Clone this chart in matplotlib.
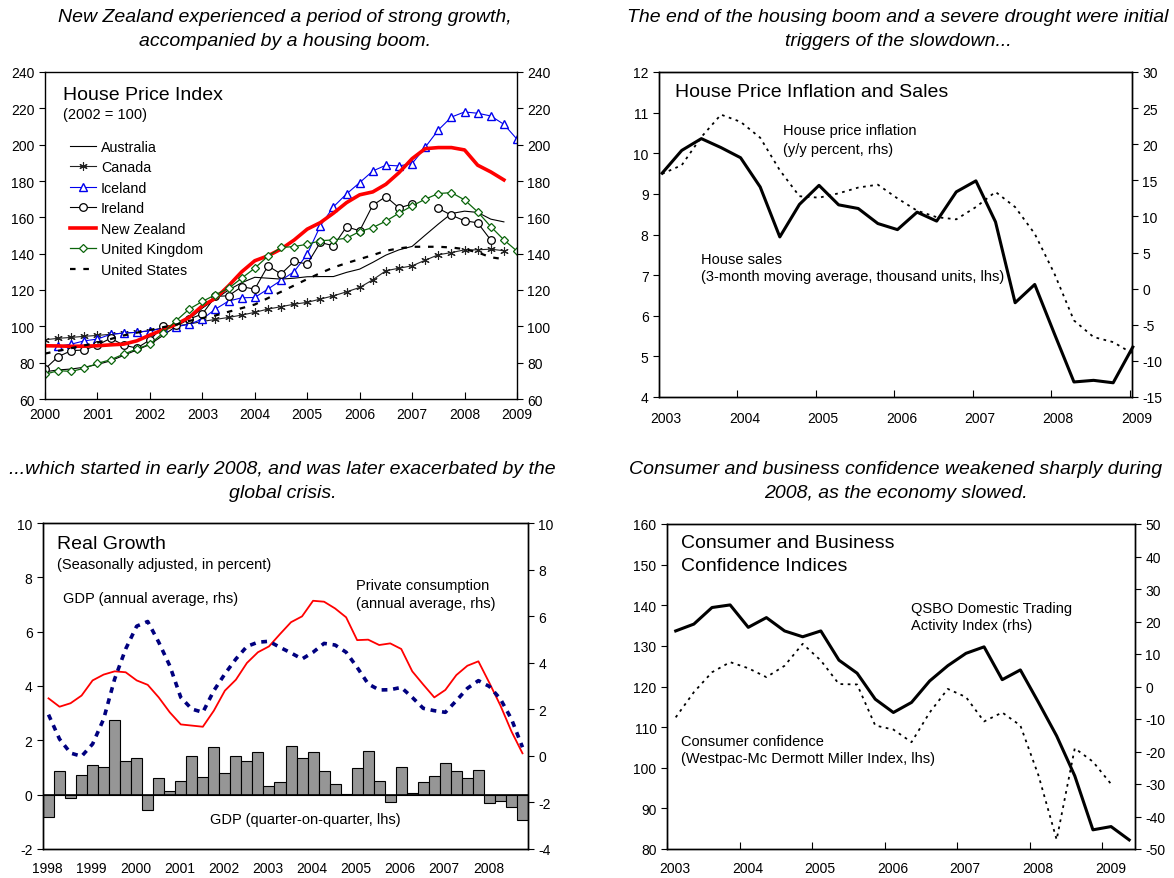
import numpy as np
import matplotlib.pyplot as plt
from matplotlib.transforms import ScaledTranslation

plt.rcParams['font.family'] = ['Liberation Sans', 'DejaVu Sans']
plt.rcParams['font.size'] = 10
plt.rcParams['axes.unicode_minus'] = False

nan = np.nan

# ---- house price index, quarterly 2000Q1 - 2009Q1 (2002 = 100)
australia = [75, 76, 76.5, 77.5, 79, 81, 84, 87, 90, 95, 100, 104, 110, 115, 120, 124,
             127, 126.5, 126, 126.5, 127.3, 127.4, 127.4, 129.7, 131.5, 135.2, 139.2, 142.1,
             144, 150.2, 156.3, 162.1, 163.4, 162.7, 159, 157.5, nan]
canada = [92.6, 93.4, 93.9, 94.5, 95.0, 95.6, 96.3, 96.7, 97.6, 99.2, 100.3, 101.2, 102.7,
          103.8, 104.9, 106.2, 107.7, 109.5, 110.8, 112.2, 113.2, 115.0, 116.8, 119.0, 121.4,
          125.6, 130.6, 132.0, 133.3, 136.4, 139.4, 140.6, 142.1, 142.1, 142.5, 141.6, nan]
iceland = [nan, 89.0, 90.2, 92.0, 93.0, 95.6, 96.3, 96.7, 97.6, 98.9, 99.8, 101.1, 104.0,
           109.5, 113.9, 115.7, 115.9, 120.5, 125.3, 130.1, 139.7, 155.3, 165.8, 172.9, 179.1,
           185.5, 188.7, 188.3, 189.6, 198.6, 208.1, 215.2, 218.0, 217.3, 215.8, 211.2, 203.0]
ireland = [76.5, 83.3, 86.6, 87.0, 89.7, 93.4, 89.7, 88.0, 92.5, 100.0, 100.7, 104.0, 106.8,
           116.5, 116.8, 121.8, 120.5, 133.3, 128.8, 135.7, 134.3, 146.2, 144.3, 154.8, 152.6,
           166.7, 171.4, 165.2, 167.3, nan, 164.9, 161.2, 158.1, 157.0, 147.5, nan, nan]
new_zealand = [89.3, 89.2, 89.0, 89.1, 89.3, 89.8, 90.2, 92.0, 95.2, 98.1, 101.1, 104.9, 111.3,
               115.4, 122.3, 130.0, 136.1, 138.8, 142.5, 147.5, 153.5, 157.1, 162.3, 168.1,
               172.4, 174.0, 178.2, 184.6, 192.3, 197.8, 198.4, 198.4, 197.1, 188.7, 185.0,
               180.6, nan]
uk = [73.6, 75.6, 75.2, 76.9, 79.6, 81.6, 84.7, 87.5, 90.2, 96.3, 103.1, 109.5, 113.7, 117.4,
      120.9, 126.5, 132.0, 138.6, 143.4, 143.9, 145.2, 147.1, 147.6, 148.5, 152.2, 154.4,
      157.9, 162.3, 166.3, 170.0, 173.1, 173.6, 169.6, 163.0, 154.9, 147.6, 141.4]
us = [85, 86.5, 88, 89.5, 91, 93, 95, 96.5, 98, 99.5, 101, 103, 104.5, 106, 108, 110, 112,
      115.5, 119, 122.5, 126, 129.3, 132.4, 134.8, 137, 139.2, 141.6, 142.9, 143.8, 143.8,
      143.8, 143.4, 142.5, 140.7, 138, 137, nan]

# ---- house sales (lhs) and house price inflation (rhs), 2003 - 2009
house_sales = [9.51, 10.07, 10.36, 10.14, 9.89, 9.17, 7.94, 8.74, 9.21, 8.73, 8.64, 8.27,
               8.12, 8.55, 8.33, 9.05, 9.32, 8.31, 6.32, 6.77, 5.56, 4.37, 4.41, 4.35, 5.23]
house_infl = [15.9, 17.1, 21.0, 24.1, 23.1, 20.9, 16.4, 12.8, 12.6, 13.2, 14.0, 14.4, 12.5,
              10.8, 9.9, 9.6, 11.3, 13.4, 11.3, 7.6, 2.1, -4.4, -6.7, -7.4, -9.0]

# ---- real growth 1998Q1 - 2008Q4
gdp_qoq = [-0.83, 0.86, -0.13, 0.74, 1.10, 1.01, 2.74, 1.25, 1.34, -0.55, 0.60, 0.12, 0.50,
           1.42, 0.64, 1.75, 0.79, 1.41, 1.25, 1.58, 0.33, 0.45, 1.80, 1.34, 1.57, 0.88, 0.38,
           0.02, 0.97, 1.60, 0.52, -0.28, 1.03, 0.05, 0.45, 0.70, 1.18, 0.86, 0.60, 0.92,
           -0.32, -0.22, -0.47, -0.92]
priv_cons = [2.47, 2.11, 2.26, 2.59, 3.24, 3.49, 3.63, 3.59, 3.24, 3.05, 2.51, 1.87, 1.35,
             1.30, 1.25, 1.94, 2.80, 3.27, 3.99, 4.45, 4.70, 5.23, 5.74, 5.99, 6.66, 6.62,
             6.33, 5.95, 4.97, 4.99, 4.76, 4.83, 4.59, 3.63, 3.06, 2.51, 2.83, 3.47, 3.87,
             4.06, 3.13, 2.16, 1.05, 0.11]
gdp_annual = [1.77, 0.72, 0.12, -0.02, 0.51, 1.58, 3.30, 4.59, 5.57, 5.77, 4.88, 3.87, 2.51,
              2.01, 1.87, 2.80, 3.52, 4.16, 4.70, 4.88, 4.92, 4.66, 4.42, 4.16, 4.45, 4.83,
              4.76, 4.45, 3.80, 3.09, 2.83, 2.84, 2.94, 2.51, 2.04, 1.94, 1.87, 2.37, 2.90,
              3.23, 2.98, 2.44, 1.58, 0.37]

# ---- confidence indices
qsbo = [17.1, 19.2, 24.3, 25.1, 18.2, 21.2, 17.1, 15.3, 17.1, 8.1, 4.1, -3.9, -8.0, -4.9,
        1.7, 6.4, 10.2, 12.2, 2.1, 5.1, -4.9, -15.2, -27.5, -44.1, -43.1, -47.2]
consumer_conf = [112.4, 118.6, 123.5, 126.0, 124.5, 122.3, 125.1, 130.5, 126.4, 120.6, 120.5,
                 110.4, 109.4, 106.3, 113.6, 119.4, 117.4, 111.4, 113.6, 110.4, 98.1, 82.3,
                 104.8, 101.5, 96.0]

W, H = 1174, 879
fig = plt.figure(figsize=(W / 100, H / 100), dpi=100)


def box(l, r, t, b):
    return [l / W, 1 - b / H, (r - l) / W, (b - t) / H]


def frame(ax):
    for s in ax.spines.values():
        s.set_linewidth(1.0)
        s.set_color('black')


def shift_xlabels(ax, px):
    off = ScaledTranslation(px / 100, 0, fig.dpi_scale_trans)
    for lab in ax.get_xticklabels():
        lab.set_transform(lab.get_transform() + off)


title_kw = dict(ha='center', va='center', fontsize=14, style='italic')
fig.text(0.243, 1 - 18 / H, 'New Zealand experienced a period of strong growth,', **title_kw)
fig.text(0.243, 1 - 42 / H, 'accompanied by a housing boom.', **title_kw)
fig.text(0.765, 1 - 18 / H, 'The end of the housing boom and a severe drought were initial', **title_kw)
fig.text(0.765, 1 - 42 / H, 'triggers of the slowdown...', **title_kw)
fig.text(0.2405, 1 - 470 / H, '...which started in early 2008, and was later exacerbated by the', **title_kw)
fig.text(0.2405, 1 - 494 / H, 'global crisis.', **title_kw)
fig.text(0.763, 1 - 470 / H, 'Consumer and business confidence weakened sharply during', **title_kw)
fig.text(0.763, 1 - 494 / H, '2008, as the economy slowed.', **title_kw)

# ================= top left
ax = fig.add_axes(box(45, 517, 73, 400))
t = 2000 + np.arange(37) / 4
green = '#0b650b'
ax.plot(t, australia, color='black', lw=0.8, label='Australia')
ax.plot(t, canada, color='#222222', lw=0.8, marker=(6, 2, 0), ms=6, mew=0.8,
        label='Canada')
ax.plot(t, iceland, color='#0000ee', lw=0.8, marker='^', ms=6, mfc='white', mec='#0000ee',
        mew=1.0, label='Iceland')
ax.plot(t, ireland, color='black', lw=0.8, marker='o', ms=5.5, mfc='white', mec='black',
        mew=0.9, label='Ireland')
ax.plot(t, new_zealand, color='#ff0000', lw=2.6, label='New Zealand')
ax.plot(t, uk, color=green, lw=0.9, marker='D', ms=4, mfc='white', mec=green, mew=0.9,
        label='United Kingdom')
ax.plot(t, us, color='black', lw=1.6, ls=(0, (2.5, 3.5)), label='United States')
ax.set_xlim(2000, 2009)
ax.set_ylim(60, 240)
ax.set_xticks(range(2000, 2010))
ax.set_yticks(range(60, 241, 20))
ax.tick_params(axis='y', left=True, right=True, labelright=True, direction='out', length=4)
ax.tick_params(axis='x', direction='in', length=5, pad=6)
frame(ax)
ax.text(0.038, 0.93, 'House Price Index', transform=ax.transAxes, fontsize=14, va='center')
ax.text(0.038, 0.872, '(2002 = 100)', transform=ax.transAxes, fontsize=10.5, va='center')
ax.legend(loc='upper left', bbox_to_anchor=(25 / 472, (400 - 141) / 327), frameon=False,
          fontsize=10.3, borderpad=0, borderaxespad=0, handlelength=1.8, handletextpad=0.35,
          labelspacing=0.45, numpoints=1)

# ================= top right
ax = fig.add_axes(box(659, 1132, 73, 398))
axr = ax.twinx()
t2 = 2003.04 + np.arange(len(house_sales)) * 0.25
ax.plot(t2, house_sales, color='black', lw=2.2, clip_on=False)
axr.plot(t2, house_infl, color='black', lw=1.3, ls=(0, (1.5, 2.5)), clip_on=False)
ax.set_xlim(2003, 2009.03)
ax.set_ylim(4, 12)
axr.set_ylim(-15, 30)
ax.set_xticks(range(2003, 2010))
ax.set_yticks(range(4, 13))
axr.set_yticks(range(-15, 31, 5))
ax.tick_params(axis='y', direction='out', length=4)
axr.tick_params(axis='y', direction='out', length=4)
ax.tick_params(axis='x', direction='in', length=5, pad=10)
shift_xlabels(ax, 7)
frame(ax)
frame(axr)
ax.text(0.034, 0.94, 'House Price Inflation and Sales', transform=ax.transAxes, fontsize=14,
        va='center')
ax.text(0.262, 0.8215, 'House price inflation', transform=ax.transAxes, fontsize=10.5,
        va='center')
ax.text(0.262, 0.763, '(y/y percent, rhs)', transform=ax.transAxes, fontsize=10.5, va='center')
ax.text(0.0888, 0.4246, 'House sales', transform=ax.transAxes, fontsize=10.5, va='center')
ax.text(0.0888, 0.372, '(3-month moving average, thousand units, lhs)', transform=ax.transAxes,
        fontsize=10.5, va='center')

# ================= bottom left
ax = fig.add_axes(box(43, 528, 524, 850))
axr = ax.twinx()
tq = 1998 + (np.arange(len(gdp_qoq)) + 0.5) / 4
ax.bar(tq, gdp_qoq, width=0.25, color='#969696', edgecolor='black', linewidth=0.8)
ax.axhline(0, color='black', lw=1.2)
axr.plot(tq, priv_cons, color='#ff0000', lw=1.3)
axr.plot(tq, gdp_annual, color='#00007f', lw=2.6, ls=(0, (1.6, 1.6)))
ax.set_xlim(1998, 2009)
ax.set_ylim(-2, 10)
axr.set_ylim(-4, 10)
ax.set_xticks(np.arange(1998, 2009) + 0.1)
ax.set_xticklabels([str(y) for y in range(1998, 2009)])
ax.set_yticks(range(-2, 11, 2))
axr.set_yticks(range(-4, 11, 2))
ax.tick_params(axis='x', length=0, pad=9)
ax.tick_params(axis='y', direction='out', length=4)
axr.tick_params(axis='y', direction='out', length=4)
frame(ax)
frame(axr)
ax.text(0.029, 0.936, 'Real Growth', transform=ax.transAxes, fontsize=14, va='center')
ax.text(0.029, 0.874, '(Seasonally adjusted, in percent)', transform=ax.transAxes,
        fontsize=10.5, va='center')
ax.text(0.041, 0.770, 'GDP (annual average, rhs)', transform=ax.transAxes, fontsize=10.5,
        va='center')
ax.text(0.645, 0.810, 'Private consumption', transform=ax.transAxes, fontsize=10.5,
        va='center')
ax.text(0.645, 0.755, '(annual average, rhs)', transform=ax.transAxes, fontsize=10.5,
        va='center')
ax.text(0.344, 0.092, 'GDP (quarter-on-quarter, lhs)', transform=ax.transAxes, fontsize=10.5,
        va='center')

# ================= bottom right
ax = fig.add_axes(box(667, 1135, 525, 850))
axr = ax.twinx()
tb = 2003.12 + np.arange(len(qsbo)) * 0.25
axr.plot(tb, qsbo, color='black', lw=2.2)
ax.plot(tb[:len(consumer_conf)], consumer_conf, color='black', lw=1.3, ls=(0, (1.5, 2.5)))
ax.set_xlim(2003, 2009.45)
ax.set_ylim(80, 160)
axr.set_ylim(-50, 50)
ax.set_xticks(range(2003, 2010))
ax.set_yticks(range(80, 161, 10))
axr.set_yticks(range(-50, 51, 10))
ax.tick_params(axis='x', direction='in', length=5, pad=9)
ax.tick_params(axis='y', direction='out', length=4)
axr.tick_params(axis='y', direction='out', length=4)
shift_xlabels(ax, 8)
frame(ax)
frame(axr)
ax.text(0.030, 0.942, 'Consumer and Business', transform=ax.transAxes, fontsize=14,
        va='center')
ax.text(0.030, 0.871, 'Confidence Indices', transform=ax.transAxes, fontsize=14, va='center')
ax.text(0.521, 0.7415, 'QSBO Domestic Trading', transform=ax.transAxes, fontsize=10.5,
        va='center')
ax.text(0.521, 0.689, 'Activity Index (rhs)', transform=ax.transAxes, fontsize=10.5,
        va='center')
ax.text(0.030, 0.332, 'Consumer confidence', transform=ax.transAxes, fontsize=10.5,
        va='center')
ax.text(0.030, 0.28, '(Westpac-Mc Dermott Miller Index, lhs)', transform=ax.transAxes,
        fontsize=10.5, va='center')

fig.savefig('out.png', dpi=100)
